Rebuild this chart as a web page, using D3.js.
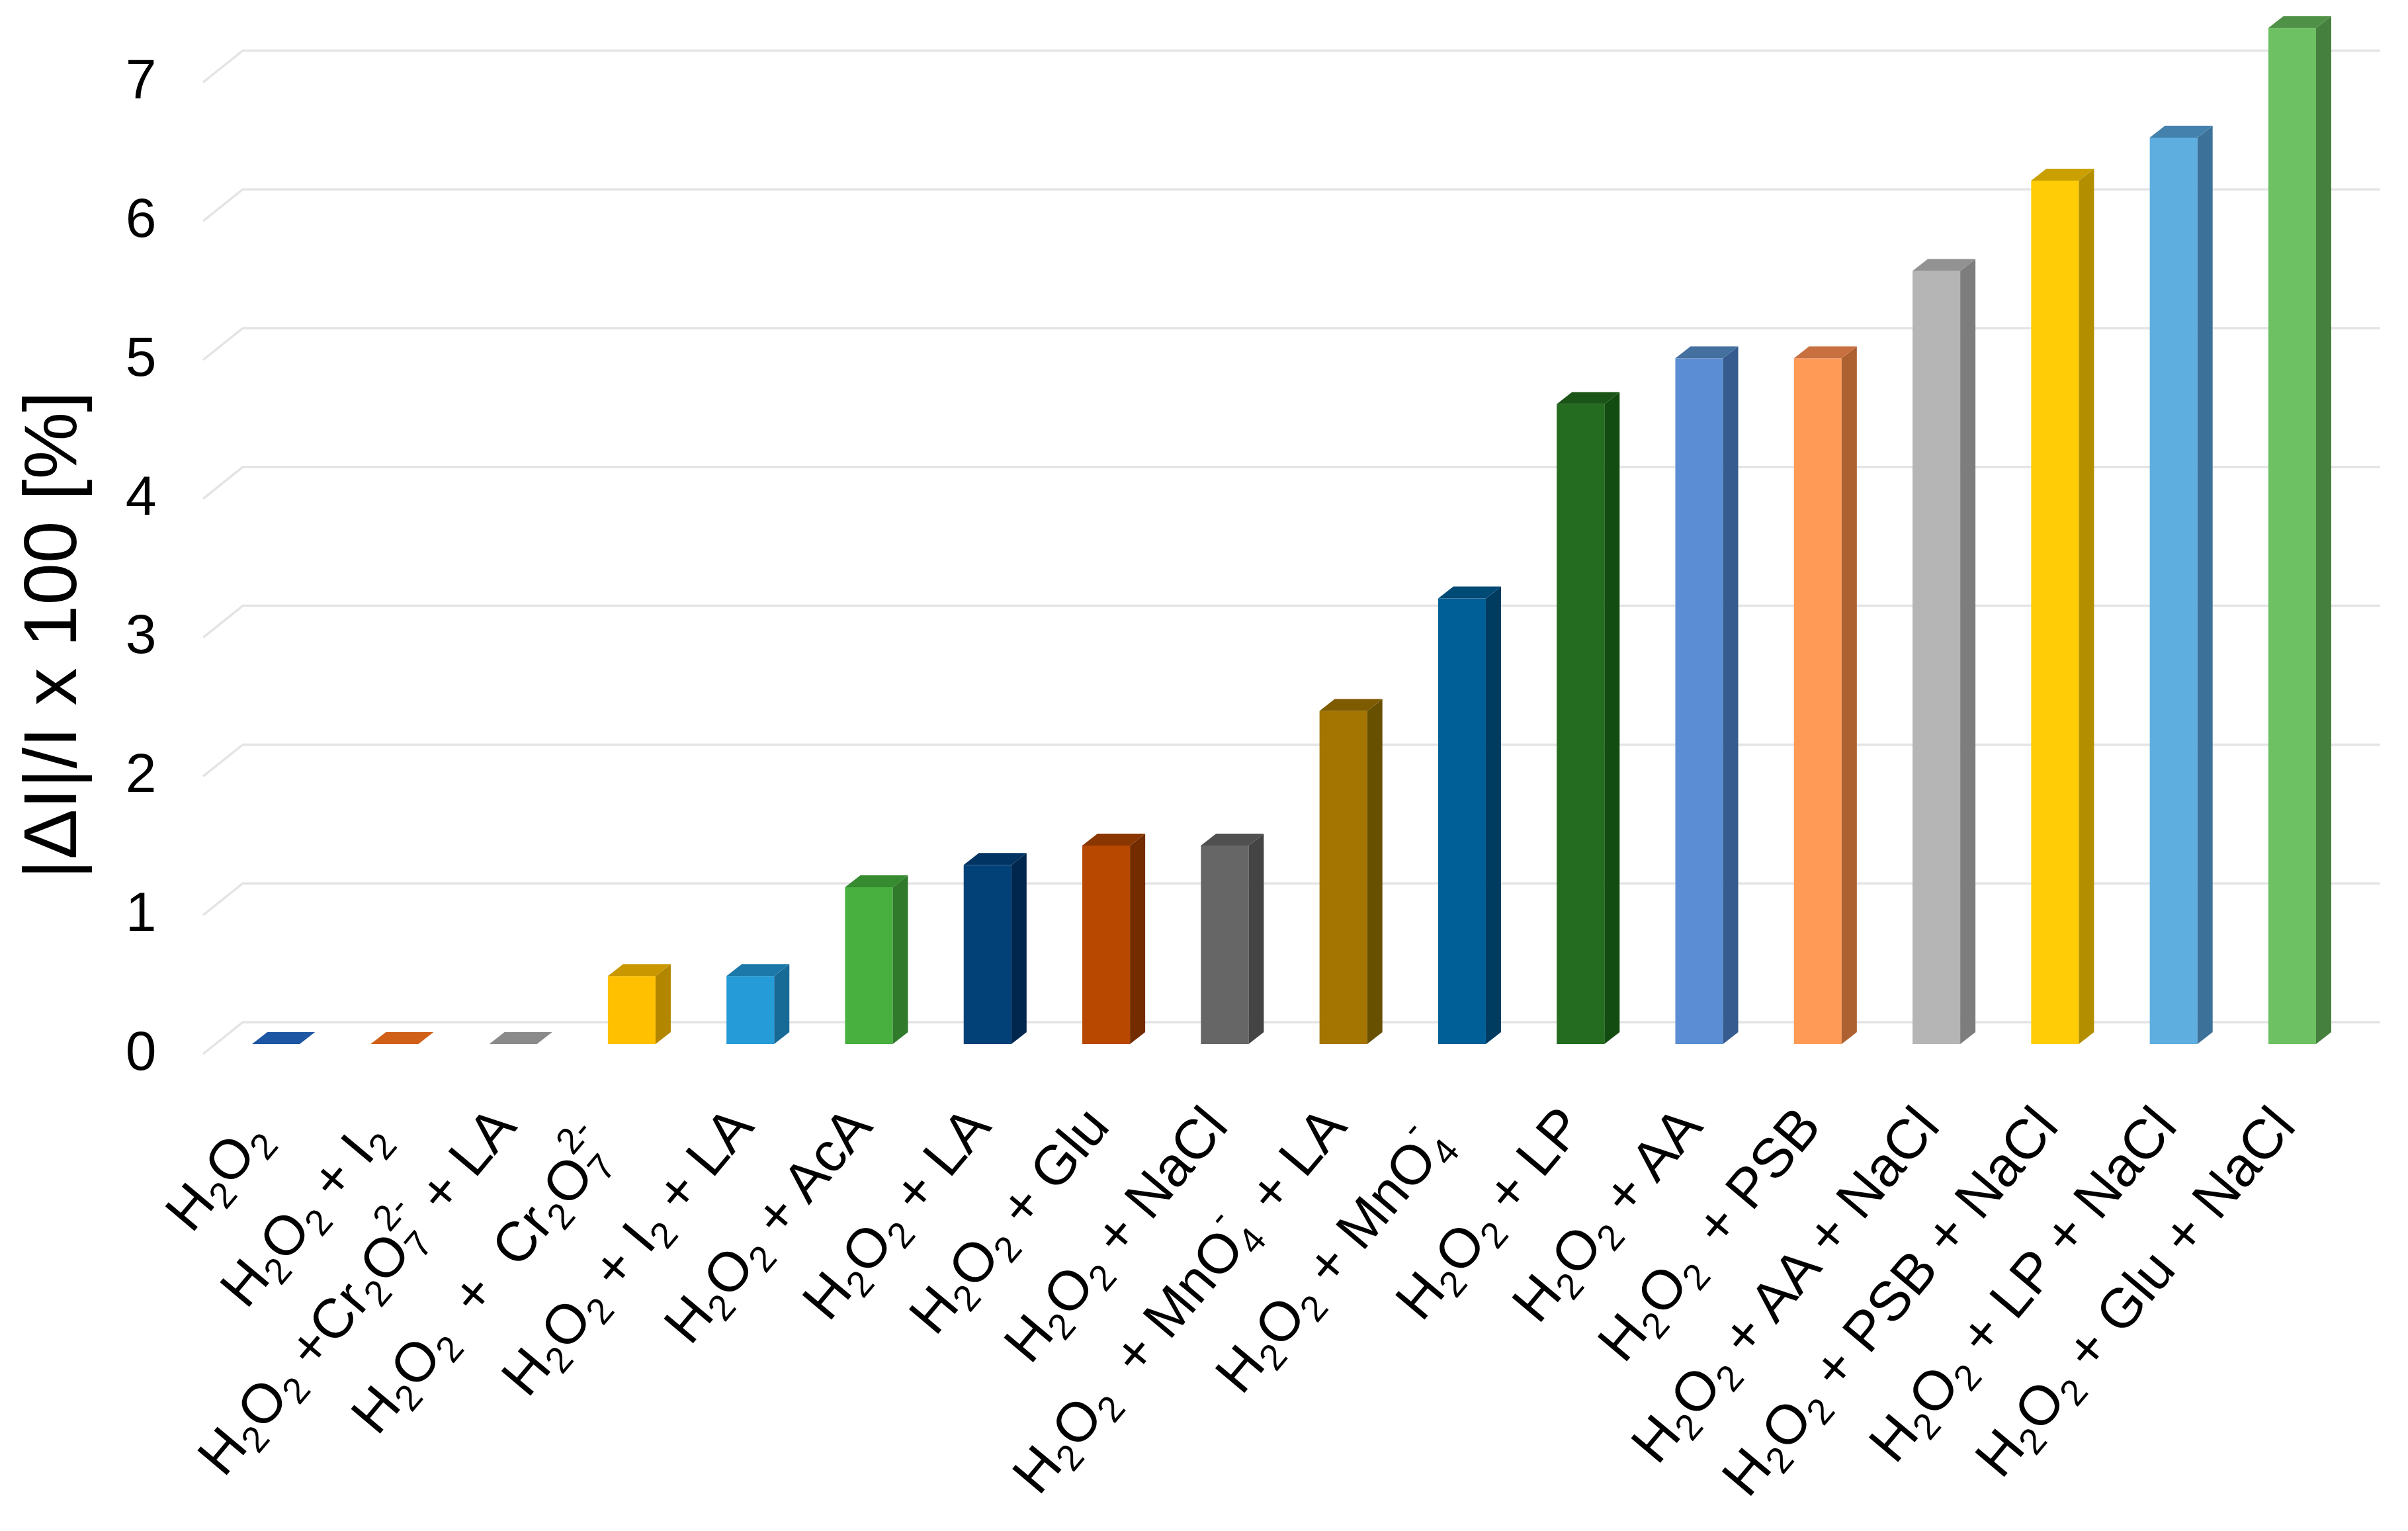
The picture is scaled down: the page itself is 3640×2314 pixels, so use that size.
<!DOCTYPE html>
<html><head><meta charset="utf-8">
<script src="https://cdn.jsdelivr.net/npm/d3@7"></script>
<style>html,body{margin:0;background:#fff}svg{display:block;filter:blur(0.7px)}text{font-family:"Liberation Sans",Arial,sans-serif;fill:#000}</style>
</head><body><svg id="c" width="3640" height="2314"></svg>
<script>
const categories=["H_2O_2\u00a0","H_2O_2 + I_2\u00a0","H_2O_2 +Cr_2O_7^2- + LA","H_2O_2  +  Cr_2O_7^2-\u00a0\u00a0","H_2O_2 + I_2 + LA","H_2O_2 + AcA","H_2O_2 + LA","H_2O_2 + Glu","H_2O_2 + NaCl","H_2O_2  + MnO_4^-  + LA","H_2O_2 + MnO_4^-\u00a0\u00a0","H_2O_2 + LP","H_2O_2 + AA","H_2O_2\u2009 + PSB","H_2O_2 + AA + NaCl","H_2O_2 + PSB + NaCl","H_2O_2 + LP + NaCl","H_2O_2 + Glu + NaCl"];
const values=[0,0,0,0.49,0.49,1.13,1.29,1.43,1.43,2.4,3.21,4.61,4.94,4.94,5.57,6.22,6.53,7.32];
const frontColors=["#1d56a3","#d05f17","#8a8a8a","#ffc000","#259bd8","#47b03f","#014177","#b84700","#666666","#a47500","#005f97","#246c1f","#5a8dd4","#ff9a56","#b5b5b5","#ffcc05","#5eaee0","#6dc163"];
const sideColors=["#133a70","#8c400f","#5d5d5d","#b38600","#176a96","#2f7a2b","#01274f","#722c00","#444444","#675000","#003c60","#124c11","#365b8f","#ad6030","#7d7d7d","#b38f00","#3c7299","#46803f"];
const topColors=["#1d56a3","#d05f17","#8a8a8a","#c99700","#1c78a8","#368a30","#013363","#8a3600","#505050","#7f5b00","#004a76","#1a5416","#44709f","#c87040","#929292","#c9a000","#4482ad","#4f9146"];
const yTicks=[0,1,2,3,4,5,6,7];
const yTitle="|ΔI|/I x 100 [%]";

const svg=d3.select("#c");
const x=d3.scaleBand().domain(categories).range([381,3501]).paddingInner(0.598).paddingOuter(0);
const y=d3.scaleLinear().domain([0,7]).range([1578,1578-7*209.8]);
const bw=x.bandwidth(), dx=23, dy=18;
const backShift=-33, frontShift=15, gridL=307, gridM=367, gridR=3598;

svg.append("g").selectAll("path").data(yTicks).join("path")
 .attr("d",v=>d3.line()([[gridL,y(v)+frontShift],[gridM,y(v)+backShift],[gridR,y(v)+backShift]]))
 .attr("fill","none").attr("stroke","#e4e4e4").attr("stroke-width",3.5);

const ax=svg.append("g").attr("transform",`translate(213,${frontShift-7})`)
 .call(d3.axisLeft(y).tickValues(yTicks).tickSize(0).tickPadding(0).tickFormat(d3.format("d")));
ax.select(".domain").remove();
ax.selectAll("text").attr("text-anchor","middle").attr("dy","0.36em").attr("font-size",84)
  .style("font-family",'"Liberation Sans",Arial,sans-serif');

const bars=svg.append("g").selectAll("g").data(categories).join("g");
bars.filter((d,i)=>values[i]>0).append("rect")
 .attr("x",d=>x(d)).attr("width",bw)
 .attr("y",(d)=>y(values[categories.indexOf(d)]))
 .attr("height",d=>y(0)-y(values[categories.indexOf(d)]))
 .attr("fill",d=>frontColors[categories.indexOf(d)]);
bars.filter((d,i)=>values[i]>0).append("path")
 .attr("d",d=>{const i=categories.indexOf(d),l=x(d)+bw,t=y(values[i]),b=y(0);
   return d3.line()([[l,t],[l+dx,t-dy],[l+dx,b-dy],[l,b]])+"Z";})
 .attr("fill",d=>sideColors[categories.indexOf(d)]);
bars.append("path")
 .attr("d",d=>{const i=categories.indexOf(d),l=x(d),t=y(values[i]);
   return d3.line()([[l,t],[l+dx,t-dy],[l+bw+dx,t-dy],[l+bw,t]])+"Z";})
 .attr("fill",d=>topColors[categories.indexOf(d)]);

const labelSize=84, subScale=0.66;
function addRich(sel,s){
  const re=/_(\d)|\^(\d?-)|([^_^]+)/g; let m, shift=0;
  while((m=re.exec(s))){
    const t=sel.append("tspan");
    if(m[1]){t.text(m[1]).attr("font-size",labelSize*subScale).attr("dy",0.2*labelSize-shift);shift=0.2*labelSize;}
    else if(m[2]){
      const w=0.556*labelSize*subScale;
      t.text(m[2]).attr("font-size",labelSize*subScale).attr("dx",-w).attr("dy",-0.55*labelSize-shift);shift=-0.55*labelSize;}
    else{t.text(m[3]).attr("font-size",labelSize).attr("dy",-shift);shift=0;}
  }
}
svg.append("g").selectAll("text").data(categories).join("text")
 .attr("text-anchor","end").attr("xml:space","preserve").style("white-space","pre")
 .attr("transform",d=>`translate(${x(d)+bw/2+8},1704) rotate(-50)`)
 .each(function(d){addRich(d3.select(this),d);});

svg.append("text").attr("transform","translate(115,960) rotate(-90)")
 .attr("text-anchor","middle").attr("font-size",114).text(yTitle);
</script></body></html>
